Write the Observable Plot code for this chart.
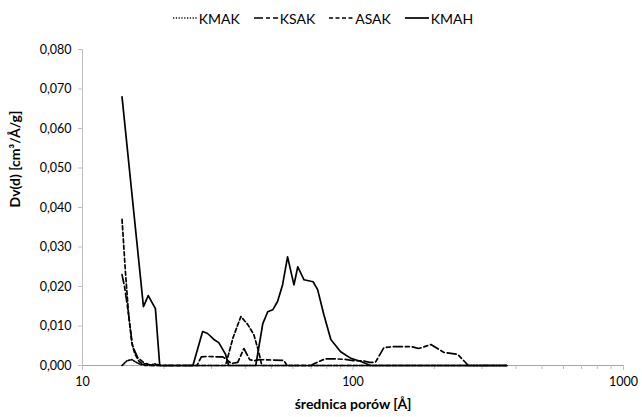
<!DOCTYPE html>
<html>
<head>
<meta charset="utf-8">
<script src="https://cdn.jsdelivr.net/npm/d3@7"></script>
<script src="https://cdn.jsdelivr.net/npm/@observablehq/plot@0.6"></script>
<style>
  body { margin: 0; background: #fff; font-family: Lato, "Open Sans", sans-serif; }
  #wrap { width: 642px; }
  #legend { height: 36px; display: flex; justify-content: center; align-items: center; font-size: 14px; color: #000; padding-left: 4px; box-sizing: border-box; }
  .item { display: flex; align-items: center; margin: 0 7px; }
  .item svg { margin-right: 2px; }
</style>
</head>
<body>
<div id="wrap">
  <div id="legend"></div>
  <div id="chart"></div>
</div>
<script>
// ---- data (pore diameter in Å, Dv(d) in cm3/Å/g) ----
const seriesNames = ["KMAK", "KSAK", "ASAK", "KMAH"];

const kmakX = [14.0, 14.6, 15.2, 15.8, 16.5, 17.2, 17.8, 18.5, 19.5, 370];
const kmakY = [0, 0.0012, 0.0015, 0.0008, 0.0002, 0.0005, 0.0001, 0.0004, 0, 0];

const ksakX = [14.0, 14.3, 14.8, 15.3, 16.0, 17.0, 18.0, 26.5, 27.5, 29, 31, 33, 34.5, 35.5, 37.5, 39.5, 41.5, 43, 45, 48.9, 55.5, 57, 70, 72, 79, 86, 95, 100, 109, 115, 121, 130, 142, 164, 175, 194, 217, 244, 267, 370];
const ksakY = [0.023, 0.020, 0.013, 0.005, 0.002, 0.0005, 0, 0, 0.0022, 0.0023, 0.0022, 0.0022, 0.0012, 0.0005, 0.0008, 0.0043, 0.0015, 0.0012, 0.0015, 0.0014, 0.0013, 0, 0, 0.0005, 0.0017, 0.0017, 0.0015, 0.0012, 0.0012, 0.0008, 0.0008, 0.0045, 0.0048, 0.0048, 0.0043, 0.0053, 0.0033, 0.0028, 0, 0];

const asakX = [14.0, 14.4, 14.8, 15.2, 15.6, 16.2, 17.0, 33.8, 36.0, 38.5, 40.8, 43.0, 44.8, 46.0, 370];
const asakY = [0.037, 0.024, 0.013, 0.006, 0.003, 0.001, 0, 0, 0.0070, 0.0124, 0.0104, 0.0078, 0.0035, 0, 0];

const kmahX = [14.0, 16.8, 17.5, 18.6, 19.3, 25.6, 27.8, 29.0, 30.6, 31.9, 33.8, 34.7, 43.7, 46.4, 48.4, 50.5, 52.6, 54.9, 57.3, 60.5, 62.5, 65.9, 71.2, 74.0, 78.0, 82.8, 90.0, 98.2, 107, 116, 370];
const kmahY = [0.068, 0.0149, 0.0177, 0.0144, 0, 0, 0.0086, 0.0081, 0.0066, 0.0058, 0.0028, 0, 0, 0.0106, 0.0136, 0.0141, 0.0162, 0.0204, 0.0275, 0.0204, 0.025, 0.0217, 0.0212, 0.0192, 0.0129, 0.0066, 0.0035, 0.0018, 0.001, 0, 0];

const yTicks = [0, 0.01, 0.02, 0.03, 0.04, 0.05, 0.06, 0.07, 0.08];
const xTicks = [10, 100, 1000];
const xMinorTicks = [20, 30, 40, 50, 60, 70, 80, 90, 200, 300, 400, 500, 600, 700, 800, 900];
const yTitle = "Dv(d) [cm³/Å/g]";
const xTitle = "średnica porów [Å]";

// ---- styles ----
const dashes = { KMAK: "1.2,1.6", KSAK: "9,3,4,3", ASAK: "4,2.5", KMAH: null };

const rows = (name, xs, ys) => xs.map((x, i) => ({ series: name, x, y: ys[i] }));
const data = {
  KMAK: rows("KMAK", kmakX, kmakY),
  KSAK: rows("KSAK", ksakX, ksakY),
  ASAK: rows("ASAK", asakX, asakY),
  KMAH: rows("KMAH", kmahX, kmahY)
};

// legend
const legend = document.getElementById("legend");
for (const name of seriesNames) {
  const item = document.createElement("div");
  item.className = "item";
  const dash = dashes[name] ? `stroke-dasharray="${dashes[name]}"` : "";
  item.innerHTML = `<svg width="24" height="10"><line x1="0" x2="24" y1="5" y2="5" stroke="#000" stroke-width="1.7" ${dash}/></svg><span>${name}</span>`;
  legend.appendChild(item);
}

const fmt = v => d3.format(".3f")(v).replace(".", ",");

const lineMarks = seriesNames.map(name =>
  Plot.line(data[name], { x: "x", y: "y", stroke: "#000", strokeWidth: 1.7, strokeDasharray: dashes[name] || undefined, curve: "linear" })
);

const chart = Plot.plot({
  width: 642,
  height: 381,
  marginLeft: 82,
  marginRight: 19,
  marginTop: 13,
  marginBottom: 52,
  style: { fontFamily: "Lato, 'Open Sans', sans-serif", fontSize: "12.5px", color: "#000", background: "#fff" },
  x: { type: "log", domain: [10, 1000] },
  y: { type: "linear", domain: [0, 0.08] },
  marks: [
    Plot.ruleX([10], { y1: 0, y2: 0.08, stroke: "#bfbfbf" }),
    Plot.ruleY([0], { x1: 10, x2: 1000, stroke: "#a6a6a6", strokeWidth: 1.2 }),
    Plot.axisY({ ticks: yTicks, tickFormat: fmt, tickSize: 4, tickPadding: 7, stroke: "#bfbfbf", label: null, fontSize: 12.5 }),
    Plot.axisX({ ticks: xTicks, tickFormat: d => String(d), tickSize: 5, tickPadding: 7, stroke: "#bfbfbf", label: null, fontSize: 12.5 }),
    Plot.axisX({ ticks: xMinorTicks, tickFormat: () => "", tickSize: 4, stroke: "#bfbfbf", label: null }),
    ...lineMarks,
    Plot.text([yTitle], { frameAnchor: "left", dx: -67, rotate: -90, fontWeight: "bold", fontSize: 14, text: d => d }),
    Plot.text([xTitle], { frameAnchor: "bottom", dy: 43, fontWeight: "bold", fontSize: 14, text: d => d })
  ]
});
document.getElementById("chart").appendChild(chart);
</script>
</body>
</html>
